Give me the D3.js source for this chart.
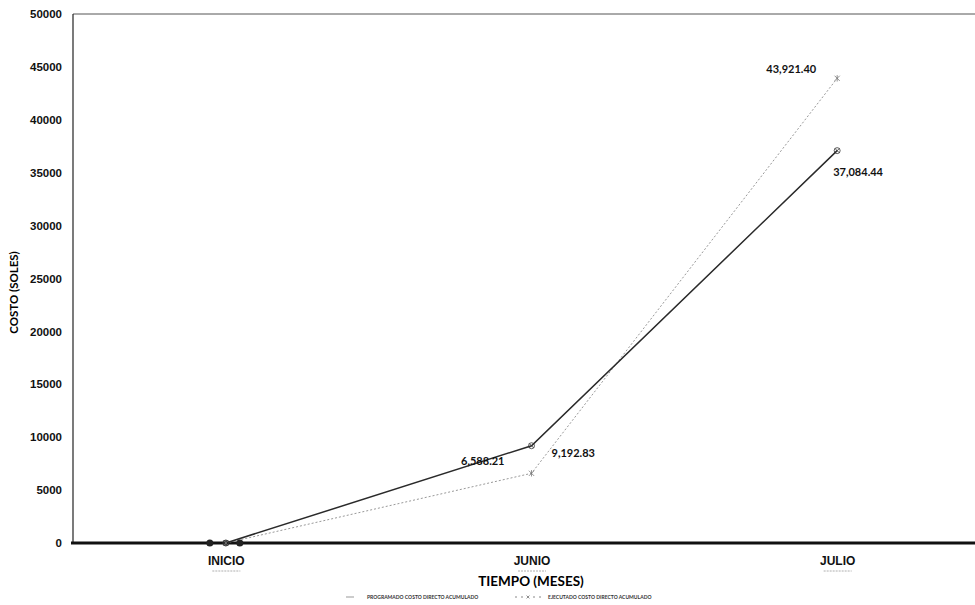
<!DOCTYPE html>
<html>
<head>
<meta charset="utf-8">
<script src="https://cdn.jsdelivr.net/npm/d3@7"></script>
<style>
  body { margin: 0; background: #fff; }
  svg { font-family: Lato, "Open Sans", sans-serif; }
</style>
</head>
<body>
<svg id="chart" width="975" height="605"></svg>
<script>
// data
const months = ["INICIO", "JUNIO", "JULIO"];
const programado = [0, 9192.83, 37084.44];
const ejecutado = [0, 6588.21, 43921.40];
const yTicks = [0, 5000, 10000, 15000, 20000, 25000, 30000, 35000, 40000, 45000, 50000];
const seriesNames = ["PROGRAMADO COSTO DIRECTO ACUMULADO", "EJECUTADO COSTO DIRECTO ACUMULADO"];

const width = 975, height = 605;
const margin = { top: 14, right: -15, bottom: 62, left: 73 };

const svg = d3.select("#chart");

const x = d3.scalePoint()
    .domain(months)
    .range([margin.left, width - margin.right])
    .padding(0.5);

const y = d3.scaleLinear()
    .domain([0, 50000])
    .range([height - margin.bottom, margin.top]);

// frame: top + left
svg.append("line")
    .attr("x1", margin.left).attr("x2", width)
    .attr("y1", y(50000)).attr("y2", y(50000))
    .attr("stroke", "#555").attr("stroke-width", 1);
svg.append("line")
    .attr("x1", margin.left).attr("x2", margin.left)
    .attr("y1", y(50000)).attr("y2", y(0))
    .attr("stroke", "#222").attr("stroke-width", 1.2);

// y axis labels
const yAxis = svg.append("g")
    .attr("transform", `translate(${margin.left},0)`)
    .call(d3.axisLeft(y).tickValues(yTicks).tickFormat(d3.format("d")).tickSize(0).tickPadding(11));
yAxis.select(".domain").remove();
yAxis.selectAll("text")
    .style("font-size", "11.5px")
    .style("font-weight", "bold")
    .attr("fill", "#111");

// x axis - thick baseline
svg.append("line")
    .attr("x1", margin.left - 2).attr("x2", width)
    .attr("y1", y(0)).attr("y2", y(0))
    .attr("stroke", "#111").attr("stroke-width", 3);

const xAxis = svg.append("g")
    .attr("transform", `translate(0,${y(0)})`)
    .call(d3.axisBottom(x).tickSize(0).tickPadding(13));
xAxis.select(".domain").remove();
xAxis.selectAll("text")
    .style("font-size", "12px")
    .style("font-weight", "bold")
    .attr("fill", "#111");
// little dashes under the category names
xAxis.selectAll(".tick").append("line")
    .attr("x1", -14).attr("x2", 14)
    .attr("y1", 28).attr("y2", 28)
    .attr("stroke", "#999").attr("stroke-width", 0.8)
    .attr("stroke-dasharray", "2,1");

// axis titles
svg.append("text")
    .attr("transform", `translate(18,${(y(50000) + y(0)) / 2 + 14}) rotate(-90)`)
    .attr("text-anchor", "middle")
    .style("font-size", "11.5px")
    .style("font-weight", "bold")
    .text("COSTO (SOLES)");

svg.append("text")
    .attr("x", 531).attr("y", 586)
    .attr("text-anchor", "middle")
    .style("font-size", "13.5px")
    .style("font-weight", "bold")
    .text("TIEMPO (MESES)");

// lines
const line = d3.line()
    .x((d, i) => x(months[i]))
    .y(d => y(d));

svg.append("path")
    .datum(ejecutado)
    .attr("fill", "none")
    .attr("stroke", "#999")
    .attr("stroke-width", 1)
    .attr("stroke-dasharray", "2,2")
    .attr("d", line);

svg.append("path")
    .datum(programado)
    .attr("fill", "none")
    .attr("stroke", "#2a2a2a")
    .attr("stroke-width", 1.5)
    .attr("d", line);

// markers
function crossPath(s) {
    return `M${-s},${-s}L${s},${s}M${-s},${s}L${s},${-s}`;
}
svg.append("g").selectAll("g")
    .data(programado)
    .join("g")
    .attr("transform", (d, i) => `translate(${x(months[i])},${y(d)})`)
    .each(function(d, i) {
        const g = d3.select(this);
        g.append("circle").attr("r", 3).attr("fill", i === 0 ? "#222" : "none").attr("stroke", "#333").attr("stroke-width", 0.8);
        g.append("path").attr("d", crossPath(2.2)).attr("stroke", "#333").attr("stroke-width", 0.8);
    });
svg.append("g").selectAll("path")
    .data(ejecutado)
    .join("path")
    .attr("transform", (d, i) => `translate(${x(months[i])},${y(d)})`)
    .attr("d", crossPath(2.6) + "M0,-3.2L0,3.2")
    .attr("stroke", "#777")
    .attr("stroke-width", 0.8);

// extra dots on the baseline near INICIO
svg.append("g").selectAll("circle")
    .data([-16, 14])
    .join("circle")
    .attr("cx", d => x("INICIO") + d)
    .attr("cy", y(0))
    .attr("r", 3.5)
    .attr("fill", "#222");

// data labels
const fmt = d3.format(",.2f");
const labels = [
    { v: ejecutado[1], m: "JUNIO", dx: -27, dy: -8, anchor: "end" },
    { v: programado[1], m: "JUNIO", dx: 20, dy: 11, anchor: "start" },
    { v: ejecutado[2], m: "JULIO", dx: -21, dy: -5, anchor: "end" },
    { v: programado[2], m: "JULIO", dx: -4, dy: 25, anchor: "start" }
];
svg.append("g").selectAll("text")
    .data(labels)
    .join("text")
    .attr("x", d => x(d.m) + d.dx)
    .attr("y", d => y(d.v) + d.dy)
    .attr("text-anchor", d => d.anchor)
    .style("font-size", "11px")
    .style("font-weight", "bold")
    .attr("fill", "#111")
    .text(d => fmt(d.v));

// legend
const legend = svg.append("g").attr("transform", "translate(0,597)");
legend.append("line")
    .attr("x1", 346).attr("x2", 354).attr("y1", 0).attr("y2", 0)
    .attr("stroke", "#999").attr("stroke-width", 1);
legend.append("text")
    .attr("x", 367).attr("y", 2)
    .style("font-size", "5px")
    .style("font-weight", "bold")
    .attr("fill", "#333")
    .text(seriesNames[0]);
legend.append("line")
    .attr("x1", 515).attr("x2", 542).attr("y1", 0).attr("y2", 0)
    .attr("stroke", "#888").attr("stroke-width", 1)
    .attr("stroke-dasharray", "2,4");
legend.append("path")
    .attr("transform", "translate(528,0)")
    .attr("d", crossPath(1.5))
    .attr("stroke", "#777").attr("stroke-width", 0.7);
legend.append("text")
    .attr("x", 548).attr("y", 2)
    .style("font-size", "5px")
    .style("font-weight", "bold")
    .attr("fill", "#333")
    .text(seriesNames[1]);
</script>
</body>
</html>
